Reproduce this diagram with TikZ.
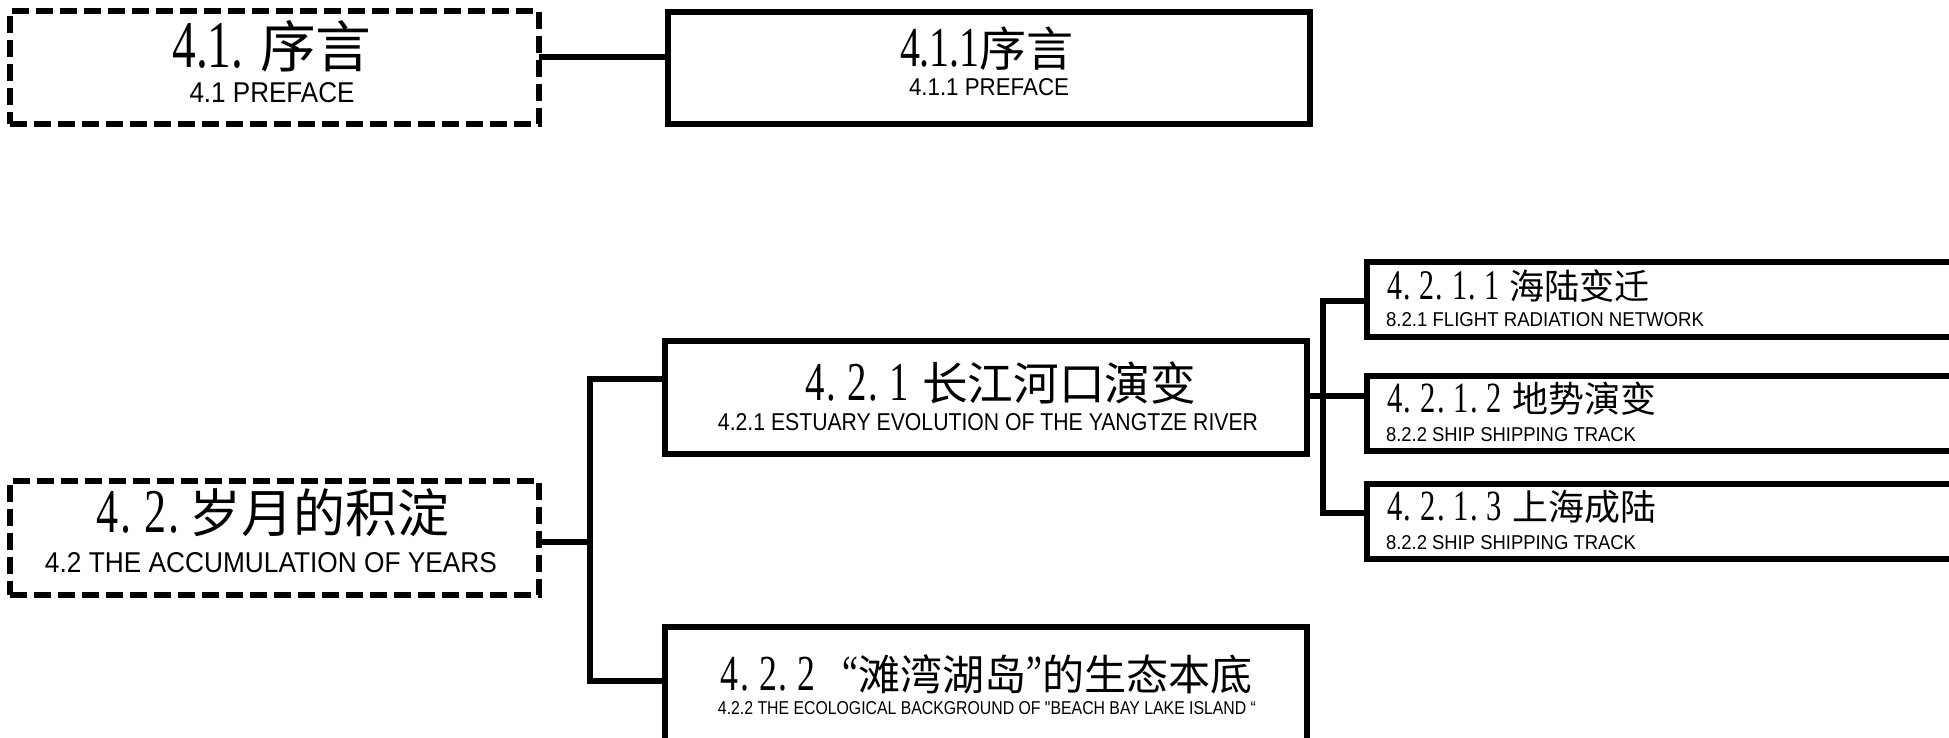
\documentclass[tikz,border=0pt]{standalone}
\usepackage{fontspec}
\usepackage{graphicx}
\newfontfamily\enf{Liberation Sans}
\newfontfamily\cjkf{Noto Sans CJK SC}
\newfontfamily\dgf{Liberation Serif}
\newcommand\dd[1]{\scalebox{0.85}[1.2]{\dgf #1}}
\newcommand\hd[1]{\makebox[0.5em][c]{\dd{#1}}}
\newcommand\hp{\makebox[0.42em][l]{\dd{.}}}
\newcommand\ttl[3]{\resizebox{#1pt}{!}{\cjkf\fontsize{#2}{#2}\selectfont #3}}
\newcommand\eng[3]{\resizebox{#1pt}{#2pt}{\enf\fontsize{20}{20}\selectfont #3}}
\begin{document}
\begin{tikzpicture}[x=1pt,y=-1pt,
  box/.style={draw, line width=5.5pt, inner sep=0pt, outer sep=0pt},
  dbox/.style={box, dash pattern=on 17pt off 7pt},
  txt/.style={inner sep=0pt, outer sep=0pt},
  link/.style={line width=5.5pt, line join=miter}]
\useasboundingbox[fill=white] (0,0) rectangle (1949,738);
% boxes
\node[dbox, minimum width=529pt, minimum height=113pt] (b41) at (274.5,67.5) {};
\node[box, minimum width=642pt, minimum height=112pt] (b411) at (989,68) {};
\node[dbox, minimum width=529pt, minimum height=114pt] (b42) at (274.5,538) {};
\node[box, minimum width=642pt, minimum height=113pt] (b421) at (986,397.5) {};
\node[box, minimum width=642pt, minimum height=153pt] (b422) at (986,703.5) {};
\node[box, minimum width=700pt, minimum height=75pt] (c1) at (1717,299.5) {};
\node[box, minimum width=700pt, minimum height=75pt] (c2) at (1717,413.5) {};
\node[box, minimum width=700pt, minimum height=75pt] (c3) at (1717,521.5) {};
% texts
\node[txt] (t41) at (272,46) {\ttl{199}{48}{\dd{4.1.}\hspace{0.3em}序言}};
\node[txt] (e41) at (272,93) {\eng{165}{20}{4.1 PREFACE}};
\node[txt] (t411) at (987,49) {\ttl{174}{40}{\dd{4.1.1}序言}};
\node[txt] (e411) at (989,87) {\eng{160}{17}{4.1.1 PREFACE}};
\node[txt] (t42) at (272,513) {\ttl{355}{51}{\hd4\hp\hd2\hp{}岁月的积淀}};
\node[txt] (e42) at (271,563) {\eng{452}{20}{4.2 THE ACCUMULATION OF YEARS}};
\node[txt] (t421) at (1000,383) {\ttl{392}{44}{\hd4\hp\hd2\hp\hd1\hspace{0.25em}长江河口演变}};
\node[txt] (e421) at (988,422) {\eng{540}{17}{4.2.1 ESTUARY EVOLUTION OF THE YANGTZE RIVER}};
\node[txt] (t422) at (986,674) {\ttl{534}{41}{\hd4\hp\hd2\hp\hd2\hspace{0.6em}\dd{“}滩湾湖岛\dd{”}的生态本底}};
\node[txt] (e422) at (987,708) {\eng{538}{13}{4.2.2 THE ECOLOGICAL BACKGROUND OF "BEACH BAY LAKE ISLAND “}};
\node[txt, anchor=west] (tc1) at (1386,286) {\ttl{264}{34}{\hd4\hp\hd2\hp\hd1\hp\hd1\hspace{0.25em}海陆变迁}};
\node[txt, anchor=west] (ec1) at (1386,320) {\eng{318}{14}{8.2.1 FLIGHT RADIATION NETWORK}};
\node[txt, anchor=west] (tc2) at (1386,399) {\ttl{270}{34}{\hd4\hp\hd2\hp\hd1\hp\hd2\hspace{0.25em}地势演变}};
\node[txt, anchor=west] (ec2) at (1386,435) {\eng{250}{14}{8.2.2 SHIP SHIPPING TRACK}};
\node[txt, anchor=west] (tc3) at (1386,507) {\ttl{270}{34}{\hd4\hp\hd2\hp\hd1\hp\hd3\hspace{0.25em}上海成陆}};
\node[txt, anchor=west] (ec3) at (1386,543) {\eng{250}{14}{8.2.2 SHIP SHIPPING TRACK}};
% connector helpers
\coordinate (y57) at (0,57);
\coordinate (h1) at (590,542);
\coordinate (h1t) at (590,379);
\coordinate (h1b) at (590,681);
\coordinate (h2) at (1323,396);
\coordinate (h2t) at (1323,301);
\coordinate (h2b) at (1323,513);
% connectors
\draw[link] (b41.east |- y57) -- (b411.west |- y57);
\draw[link] (b42.east |- h1) -- (h1);
\draw[link] (b421.west |- h1t) -- (h1t) -- (h1b) -- (b422.west |- h1b);
\draw[link] (b421.east |- h2) -- (h2) -- (c2.west |- h2);
\draw[link] (c1.west |- h2t) -- (h2t) -- (h2b) -- (c3.west |- h2b);
\end{tikzpicture}
\end{document}
